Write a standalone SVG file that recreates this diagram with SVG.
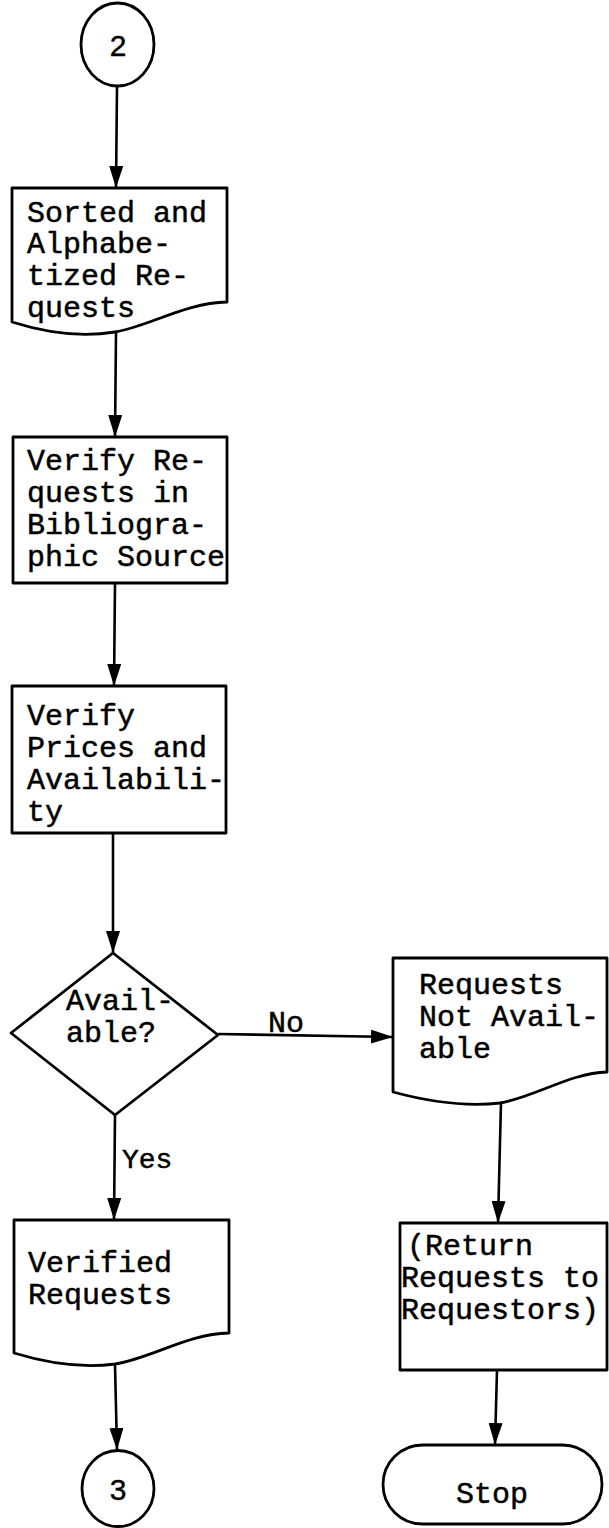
<svg xmlns="http://www.w3.org/2000/svg" width="609" height="1528" viewBox="0 0 609 1528">
  <style>
    .shape { fill: #fff; stroke: #000; stroke-width: 2.8; stroke-linejoin: round; }
    .flow { fill: none; stroke: #000; stroke-width: 2.6; }
    .t { font-family: "Liberation Mono", "Courier New", monospace; font-size: 30px; fill: #000; stroke: #000; stroke-width: 0.5; }
    .small { font-size: 28px; }
    .num { font-family: "Liberation Sans", Arial, sans-serif; font-size: 30px; fill: #000; stroke: #000; stroke-width: 0.4; text-anchor: middle; }
  </style>
  <defs>
    <marker id="arrow" markerWidth="22" markerHeight="14" refX="22" refY="7" orient="auto" markerUnits="userSpaceOnUse">
      <path d="M0,0 L22,7 L0,14 Z" fill="#000"/>
    </marker>
  </defs>

  <!-- connectors -->
  <g id="connectors">
    <path class="flow" d="M117,87 L116,188" marker-end="url(#arrow)"/>
    <path class="flow" d="M116,333 L115,437" marker-end="url(#arrow)"/>
    <path class="flow" d="M115,583 L114,686" marker-end="url(#arrow)"/>
    <path class="flow" d="M113,833 L113,953" marker-end="url(#arrow)"/>
    <path class="flow" d="M115,1115 L114,1220" marker-end="url(#arrow)"/>
    <path class="flow" d="M218,1034 L393,1037" marker-end="url(#arrow)"/>
    <path class="flow" d="M501,1102 L498,1223" marker-end="url(#arrow)"/>
    <path class="flow" d="M497,1370 L495,1445" marker-end="url(#arrow)"/>
    <path class="flow" d="M115,1365 L117,1450" marker-end="url(#arrow)"/>
    <text class="t" x="268" y="1032">No</text>
    <text class="t small" x="122" y="1168">Yes</text>
  </g>

  <!-- connector 2 -->
  <g id="start-connector">
    <ellipse class="shape" cx="117.5" cy="44.5" rx="36.5" ry="41.5"/>
    <text class="num" x="118" y="56">2</text>
  </g>

  <!-- sorted requests document -->
  <g id="sorted-requests">
    <path class="shape" d="M12,188 H227 V302 C185,303 150,326 115,332 C85,337 50,334 12,322 Z"/>
    <text class="t" x="27" y="222">Sorted and</text>
    <text class="t" x="27" y="253">Alphabe-</text>
    <text class="t" x="27" y="285">tized Re-</text>
    <text class="t" x="27" y="317">quests</text>
  </g>

  <!-- verify in bibliographic source -->
  <g id="verify-bibliographic">
    <rect class="shape" x="13" y="437" width="214" height="146"/>
    <text class="t" x="27" y="470">Verify Re-</text>
    <text class="t" x="27" y="502">quests in</text>
    <text class="t" x="27" y="534">Bibliogra-</text>
    <text class="t" x="27" y="566">phic Source</text>
  </g>

  <!-- verify prices -->
  <g id="verify-prices">
    <rect class="shape" x="12" y="686" width="214" height="147"/>
    <text class="t" x="27" y="725">Verify</text>
    <text class="t" x="27" y="757">Prices and</text>
    <text class="t" x="27" y="789">Availabili-</text>
    <text class="t" x="27" y="821">ty</text>
  </g>

  <!-- decision -->
  <g id="available-decision">
    <path class="shape" d="M113,953 L218,1035 L115,1115 L11,1033 Z"/>
    <text class="t" x="66" y="1010">Avail-</text>
    <text class="t" x="66" y="1042">able?</text>
  </g>

  <!-- not available document -->
  <g id="not-available">
    <path class="shape" d="M393,958 H607 V1072 C570,1073 535,1097 500,1103 C465,1107 430,1102 393,1092 Z"/>
    <text class="t" x="419" y="994">Requests</text>
    <text class="t" x="419" y="1026">Not Avail-</text>
    <text class="t" x="419" y="1058">able</text>
  </g>

  <!-- verified requests document -->
  <g id="verified-requests">
    <path class="shape" d="M14,1220 H229 V1333 C187,1334 152,1358 115,1364 C85,1368 50,1364 14,1353 Z"/>
    <text class="t" x="28" y="1272">Verified</text>
    <text class="t" x="28" y="1304">Requests</text>
  </g>

  <!-- return requests -->
  <g id="return-requests">
    <rect class="shape" x="400" y="1223" width="207" height="147"/>
    <text class="t" x="407" y="1255">(Return</text>
    <text class="t" x="401" y="1287">Requests to</text>
    <text class="t" x="401" y="1319">Requestors)</text>
  </g>

  <!-- connector 3 -->
  <g id="end-connector">
    <ellipse class="shape" cx="118" cy="1488.5" rx="36" ry="38"/>
    <text class="num" x="118" y="1500">3</text>
  </g>

  <!-- terminal -->
  <g id="stop">
    <rect class="shape" x="383" y="1445" width="219" height="79" rx="39.5" ry="39.5"/>
    <text class="t" x="492" y="1503" text-anchor="middle">Stop</text>
  </g>
</svg>
